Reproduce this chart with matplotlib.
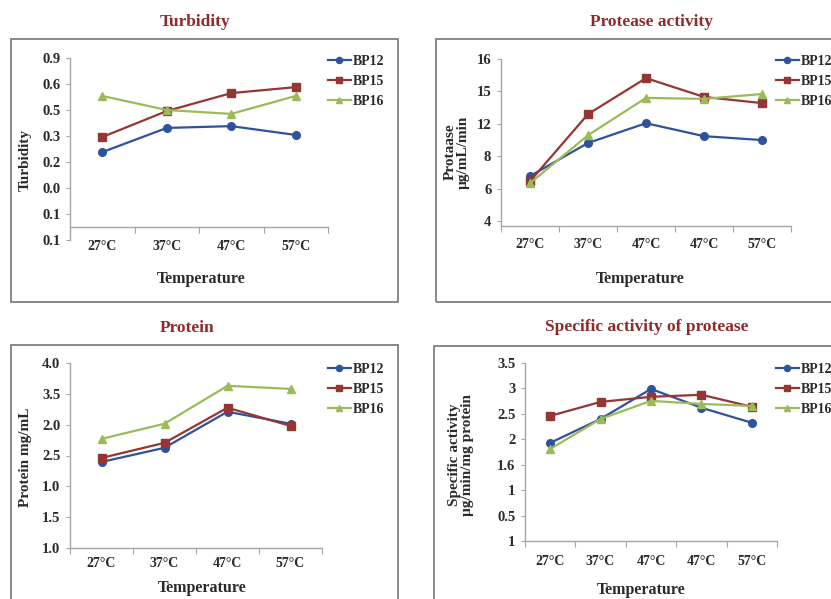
import matplotlib.pyplot as plt
from matplotlib.patches import Rectangle

# ---------------------------------------------------------------------------
# Data (values read in tick-position units, tick labels kept as printed)
# ---------------------------------------------------------------------------
series = ['BP12', 'BP15', 'BP16']
colors = ['#2F539B', '#943634', '#9BBB59']
markers = ['o', 's', '^']

temps4 = ['27°C', '37°C', '47°C', '57°C']
temps5 = ['27°C', '37°C', '47°C', '47°C', '57°C']

turb_ticks = ['0.1', '0.1', '0.0', '0.2', '0.3', '0.5', '0.6', '0.9']
turb_bp12 = [3.38, 4.31, 4.38, 4.04]
turb_bp15 = [3.96, 4.96, 5.65, 5.88]
turb_bp16 = [5.54, 5.00, 4.85, 5.54]

prot_ticks = ['4', '6', '8', '12', '15', '16']
prot_bp12 = [1.39, 2.41, 3.02, 2.62, 2.50]
prot_bp15 = [1.23, 3.30, 4.41, 3.83, 3.64]
prot_bp16 = [1.17, 2.65, 3.80, 3.77, 3.92]

protein_ticks = ['1.0', '1.5', '1.0', '2.5', '2.0', '3.5', '4.0']
protein_bp12 = [2.79, 3.25, 4.42, 4.03]
protein_bp15 = [2.92, 3.41, 4.55, 3.96]
protein_bp16 = [3.54, 4.03, 5.26, 5.16]

spec_ticks = ['1', '0.5', '1', '1.6', '2', '2.5', '3', '3.5']
spec_bp12 = [3.86, 4.80, 5.98, 5.24, 4.65]
spec_bp15 = [4.92, 5.47, 5.67, 5.75, 5.28]
spec_bp16 = [3.62, 4.80, 5.51, 5.39, 5.31]

# ---------------------------------------------------------------------------
W, H = 831, 599
plt.rcParams['font.family'] = ['Liberation Serif', 'DejaVu Serif']
plt.rcParams['font.weight'] = 'bold'

fig = plt.figure(figsize=(W / 100, H / 100), dpi=100)

TITLE_C = '#8B2B2B'
TXT_C = '#2a2a2a'
AX_C = '#A6A6A6'


def px_axes(x0, y0, x1, y1):
    return fig.add_axes([x0 / W, 1 - y1 / H, (x1 - x0) / W, (y1 - y0) / H])


def ftext(x, y, s, **kw):
    fig.text(x / W, 1 - y / H, s, ha='center', va='center', **kw)


def panel(box, axbox, cats, ticks, data, ylo, spine_y, title, tpos,
          ylabel, ypos, xlpos, legpos, xpad):
    fig.patches.append(Rectangle((box[0] / W, 1 - box[3] / H),
                                 (box[2] - box[0]) / W, (box[3] - box[1]) / H,
                                 transform=fig.transFigure, fill=False,
                                 edgecolor='#7F7F7F', lw=1.3))
    ax = px_axes(*axbox)
    n = len(cats)
    x = list(range(n))
    for vals, name, c, m in zip(data, series, colors, markers):
        ax.plot(x, vals, color=c, marker=m, markersize=5.5, lw=1.6,
                label=name, clip_on=False)
    ax.set_xlim(-0.5, n - 0.5)
    ax.set_ylim(ylo, len(ticks) - 1)
    ax.set_yticks(range(len(ticks)))
    ax.set_yticklabels(ticks)
    ax.set_xticks([i - 0.5 for i in range(n + 1)])
    ax.set_xticklabels([])
    ax.set_xticks(x, minor=True)
    ax.set_xticklabels(cats, minor=True)
    ax.tick_params(axis='x', which='major', length=4, color=AX_C,
                   direction='out')
    ax.tick_params(axis='x', which='minor', length=0, pad=xpad,
                   labelsize=10, labelcolor=TXT_C)
    ax.tick_params(axis='y', length=3, color=AX_C, pad=4, labelsize=10.5,
                   labelcolor=TXT_C)
    for s in ['top', 'right']:
        ax.spines[s].set_visible(False)
    for s in ['left', 'bottom']:
        ax.spines[s].set_color(AX_C)
        ax.spines[s].set_linewidth(1.0)
    ax.spines['bottom'].set_position(('data', spine_y))
    ax.patch.set_alpha(0)

    ftext(*tpos, title, fontsize=12.5, color=TITLE_C, fontweight='bold')
    ftext(*ypos, ylabel, fontsize=11, color=TXT_C, rotation=90,
          linespacing=1.0)
    ftext(*xlpos, 'Temperature', fontsize=11.5, color=TXT_C)
    fig.legend(*ax.get_legend_handles_labels(), loc='upper left',
               bbox_to_anchor=(legpos[0] / W, 1 - legpos[1] / H),
               frameon=False, borderpad=0, handlelength=1.65,
               handletextpad=0.15, labelspacing=0.5, fontsize=10,
               labelcolor=TXT_C, markerscale=0.8)
    return ax


panel((11, 39, 398, 302), (70, 58, 328, 240), temps4, turb_ticks,
      [turb_bp12, turb_bp15, turb_bp16], 0, 0.5, 'Turbidity', (195, 22),
      'Turbidity', (25, 160), (201, 279), (321, 48), 9)

panel((436, 39, 900, 302), (501, 59, 791, 226), temps5, prot_ticks,
      [prot_bp12, prot_bp15, prot_bp16], -0.15, -0.15, 'Protease activity',
      (652, 22), 'Protaase\nµg/mL/min', (457, 152), (640, 279), (769, 48), 9)

panel((11, 345, 398, 640), (70, 363, 322, 548), temps4, protein_ticks,
      [protein_bp12, protein_bp15, protein_bp16], 0, 0, 'Protein',
      (187, 328), 'Protein mg/mL', (26, 457), (202, 588), (321, 356), 6.5)

panel((434, 346, 900, 640), (525, 363, 777, 541), temps5, spec_ticks,
      [spec_bp12, spec_bp15, spec_bp16], 0, 0,
      'Specific activity of protease', (647, 327),
      'Specific activity\nµg/min/mg protein', (461, 455), (641, 590),
      (769, 356), 10)

fig.savefig('out.png', dpi=100)
